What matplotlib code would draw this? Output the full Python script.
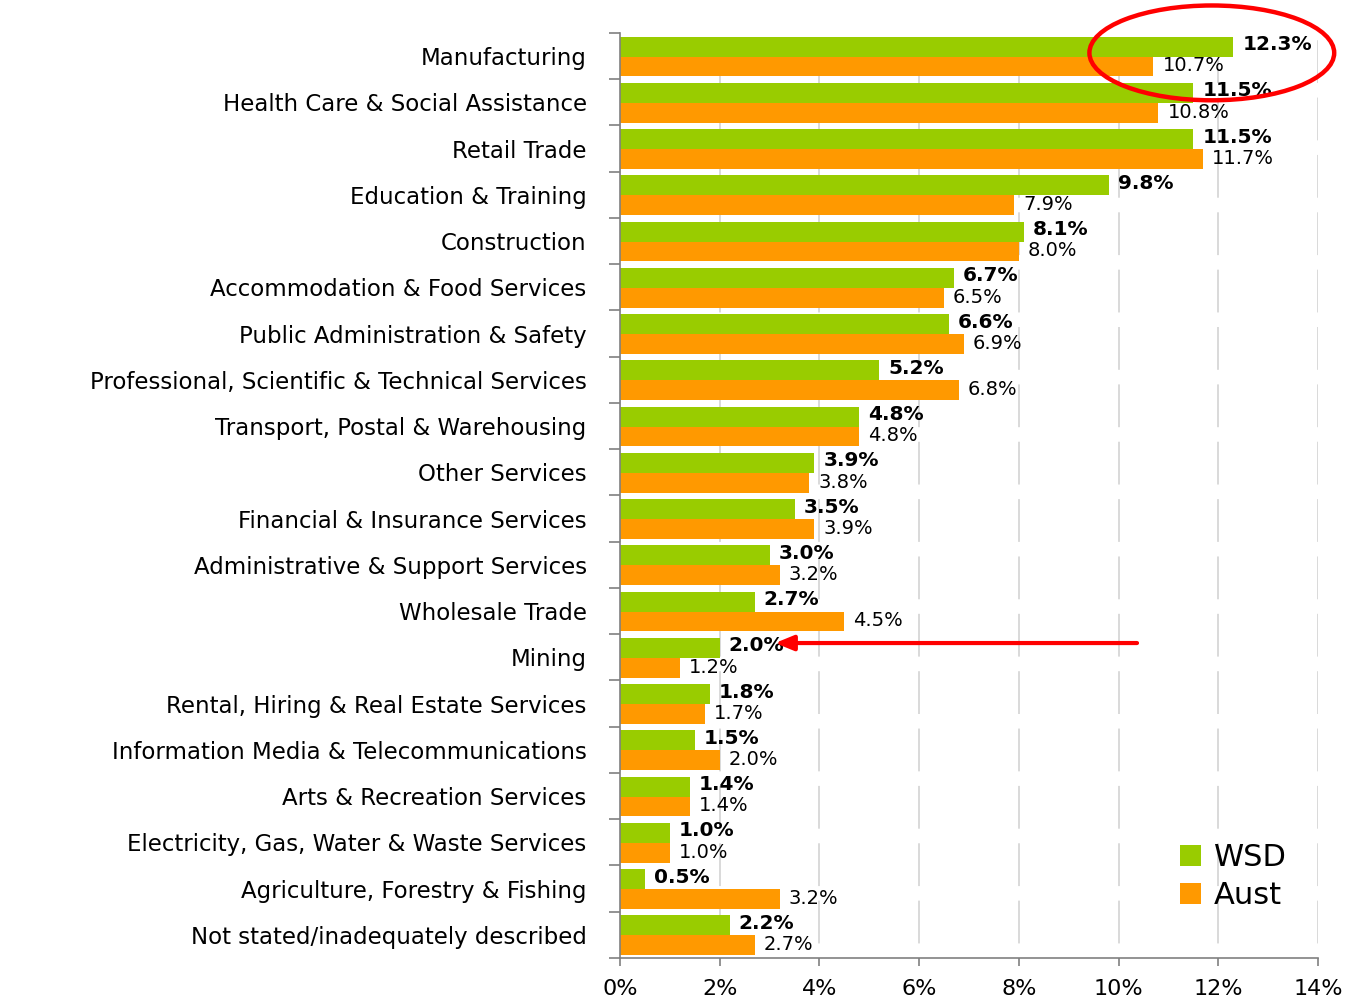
import matplotlib
matplotlib.use("Agg")
import matplotlib.pyplot as plt
from matplotlib.patches import Ellipse, Patch
from matplotlib.ticker import FixedLocator, PercentFormatter
import numpy as np

categories = [
    "Manufacturing",
    "Health Care & Social Assistance",
    "Retail Trade",
    "Education & Training",
    "Construction",
    "Accommodation & Food Services",
    "Public Administration & Safety",
    "Professional, Scientific & Technical Services",
    "Transport, Postal & Warehousing",
    "Other Services",
    "Financial & Insurance Services",
    "Administrative & Support Services",
    "Wholesale Trade",
    "Mining",
    "Rental, Hiring & Real Estate Services",
    "Information Media & Telecommunications",
    "Arts & Recreation Services",
    "Electricity, Gas, Water & Waste Services",
    "Agriculture, Forestry & Fishing",
    "Not stated/inadequately described",
]
wsd = [12.3, 11.5, 11.5, 9.8, 8.1, 6.7, 6.6, 5.2, 4.8, 3.9,
       3.5, 3.0, 2.7, 2.0, 1.8, 1.5, 1.4, 1.0, 0.5, 2.2]
aust = [10.7, 10.8, 11.7, 7.9, 8.0, 6.5, 6.9, 6.8, 4.8, 3.8,
        3.9, 3.2, 4.5, 1.2, 1.7, 2.0, 1.4, 1.0, 3.2, 2.7]
series_names = ["WSD", "Aust"]
x_ticks = [0, 2, 4, 6, 8, 10, 12, 14]

GREEN = "#99CC00"
ORANGE = "#FF9900"
FONT = "DejaVu Sans"

fig = plt.figure(figsize=(13.5, 9.98), dpi=100)
ax = fig.add_axes([620/1350, 1-958/998, (1318-620)/1350, (958-33)/998])

y = np.arange(len(categories))
h = 0.43
shift = 0.01
b1 = ax.barh(y - h/2 + shift, wsd, height=h, color=GREEN, zorder=2)
b2 = ax.barh(y + h/2 + shift, aust, height=h, color=ORANGE, zorder=2)

for rect, v in zip(b1, wsd):
    ax.annotate(f"{v:.1f}%", (rect.get_width(), rect.get_y() + rect.get_height()/2),
                xytext=(6.5, 1.5), textcoords="offset points", va="center", ha="left",
                fontsize=14.5, fontweight="bold", family=FONT, zorder=4)
for rect, v in zip(b2, aust):
    ax.annotate(f"{v:.1f}%", (rect.get_width(), rect.get_y() + rect.get_height()/2),
                xytext=(6.5, 0.5), textcoords="offset points", va="center", ha="left",
                fontsize=14, family=FONT, zorder=4)

ax.set_xlim(0, 14)
ax.set_ylim(len(categories) - 0.5, -0.5)

ax.set_xticks(x_ticks)
ax.xaxis.set_major_formatter(PercentFormatter(decimals=0))
ax.tick_params(axis="x", direction="out", length=6, width=1.2, color="#808080",
               labelsize=16, pad=9)
for lab in ax.get_xticklabels():
    lab.set_family(FONT)

ax.set_yticks(y)
ax.set_yticklabels(categories, family=FONT, fontsize=16.5)
ax.tick_params(axis="y", which="major", length=0, pad=24)
ax.yaxis.set_minor_locator(FixedLocator(np.arange(-0.5, len(categories) + 0.5, 1)))
ax.tick_params(axis="y", which="minor", direction="out", length=8, width=1.2, color="#808080")

for s in ["top", "right"]:
    ax.spines[s].set_visible(False)
for s in ["left", "bottom"]:
    ax.spines[s].set_color("#808080")
    ax.spines[s].set_linewidth(1.2)

ax.set_axisbelow(True)
ax.xaxis.grid(True, color="#D9D9D9", linewidth=1.4, linestyle=(22, (22, 7.5)))

# legend
handles = [Patch(facecolor=GREEN, edgecolor="none"), Patch(facecolor=ORANGE, edgecolor="none")]
leg = fig.legend(handles, series_names, loc="upper left",
                 bbox_to_anchor=(1180/1350, 1-843/998), frameon=False,
                 prop={"family": FONT, "size": 22}, handlelength=0.7, handleheight=0.7,
                 handletextpad=0.4, labelspacing=0.3, borderpad=0, borderaxespad=0)

# annotations: red ellipse and arrow
ell = Ellipse((11.87, -0.07), width=4.91, height=2.05, fill=False, edgecolor="#FF0000",
              linewidth=3.2, clip_on=False, zorder=5)
ax.add_patch(ell)
ax.annotate("", xy=(3.11, 12.69), xytext=(10.37, 12.69),
            arrowprops=dict(arrowstyle="-|>,head_length=1.1,head_width=0.45",
                            color="#FF0000", lw=3, shrinkA=0, shrinkB=0),
            zorder=5)

fig.savefig("out.png", dpi=100)
